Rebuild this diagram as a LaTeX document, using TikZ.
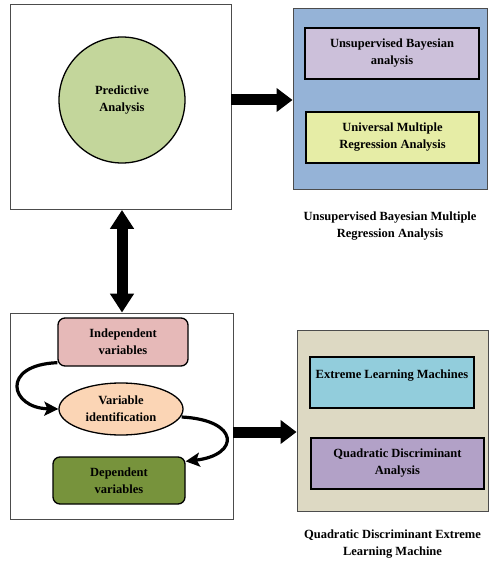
\documentclass[tikz,border=0pt]{standalone}
\usepackage{fontspec}
\setmainfont{Liberation Serif}
\usepackage{xcolor}
\usetikzlibrary{shapes.geometric, arrows.meta, positioning}
\definecolor{panelblue}{HTML}{95B3D7}
\definecolor{paneltan}{HTML}{DDD9C3}
\definecolor{lilac}{HTML}{CCC0DA}
\definecolor{limeyellow}{HTML}{E6EDA6}
\definecolor{skycyan}{HTML}{92CDDC}
\definecolor{qdaviolet}{HTML}{B2A1C7}
\definecolor{rosepink}{HTML}{E6B9B8}
\definecolor{peach}{HTML}{FBD5B5}
\definecolor{olivegreen}{HTML}{77933C}
\definecolor{sagegreen}{HTML}{C3D69B}

\begin{document}
\begin{tikzpicture}[
        x=1pt, y=-1pt,
        txt/.style={font=\fontsize{12.5}{17}\selectfont\bfseries, align=center, inner sep=0pt},
        panel/.style={draw=black!70, line width=0.9pt, inner sep=0pt},
        box/.style={txt, draw, line width=1.3pt},
        rbox/.style={box, rounded corners=7pt},
        bigarrow/.style={line width=11pt, -{Triangle[length=16pt, width=23pt]}},
        bigdouble/.style={line width=11pt, {Triangle[length=19pt, width=23pt]}-{Triangle[length=19pt, width=23pt]}},
        curvearrow/.style={line width=3.2pt, -{Stealth[length=14pt, width=14pt, inset=3pt]}},
    ]
        \useasboundingbox (0,0) rectangle (488,569);

        % top row
        \node[panel, minimum width=221pt, minimum height=205pt] (top) at (120.5,107) {};
        \node[box, circle, fill=sagegreen, minimum size=126pt] (pred) at (122,100) {Predictive\\Analysis};

        \node[panel, fill=panelblue, minimum width=194pt, minimum height=181pt] (blue) at (390,98.5) {};
        \node[box, fill=lilac, minimum width=174pt, minimum height=51pt] (uba) at (392,53.5) {Unsupervised Bayesian\\analysis};
        \node[box, fill=limeyellow, minimum width=173pt, minimum height=51pt] (umra) at (392.5,137.5) {Universal Multiple\\Regression Analysis};
        \node[txt, below=22pt of blue] (cap1) {Unsupervised Bayesian Multiple\\Regression Analysis};

        \coordinate (topout) at ([yshift=7pt]top.east);
        \draw[bigarrow] (topout) -- (topout -| blue.west);

        % bottom row
        \node[panel, minimum width=223pt, minimum height=206pt] (bot) at (121.5,416) {};
        \node[rbox, fill=rosepink, minimum width=130pt, minimum height=48pt] (indep) at (123,342) {Independent\\variables};
        \node[box, ellipse, fill=peach, minimum width=124pt, minimum height=52pt] (varid) at (121,409) {Variable\\identification};
        \node[rbox, fill=olivegreen, minimum width=132pt, minimum height=47pt] (dep) at (119,480.5) {Dependent\\variables};

        \draw[bigdouble] (top.south -| pred) -- (bot.north -| pred);

        \draw[curvearrow] ([yshift=4pt]indep.south west) .. controls (0,365) and (10,408) .. (varid.west);
        \draw[curvearrow] ([shift={(-2pt,-8pt)}]varid.east) .. controls (240,420) and (240,455) .. ([yshift=-5pt]dep.north east);

        \node[panel, fill=paneltan, minimum width=191pt, minimum height=181pt] (tan) at (392.5,420.5) {};
        \node[box, fill=skycyan, minimum width=164pt, minimum height=51pt] (elm) at (392,382.5) {Extreme Learning Machines\\~};
        \node[box, fill=qdaviolet, minimum width=173pt, minimum height=51pt] (qda) at (397.5,463.5) {Quadratic Discriminant\\Analysis};
        \node[txt, below=18pt of tan] (cap2) {Quadratic Discriminant Extreme\\Learning Machine};

        \coordinate (botout) at ([yshift=-16pt]bot.east);
        \draw[bigarrow] (botout) -- (botout -| tan.west);
\end{tikzpicture}
\end{document}
